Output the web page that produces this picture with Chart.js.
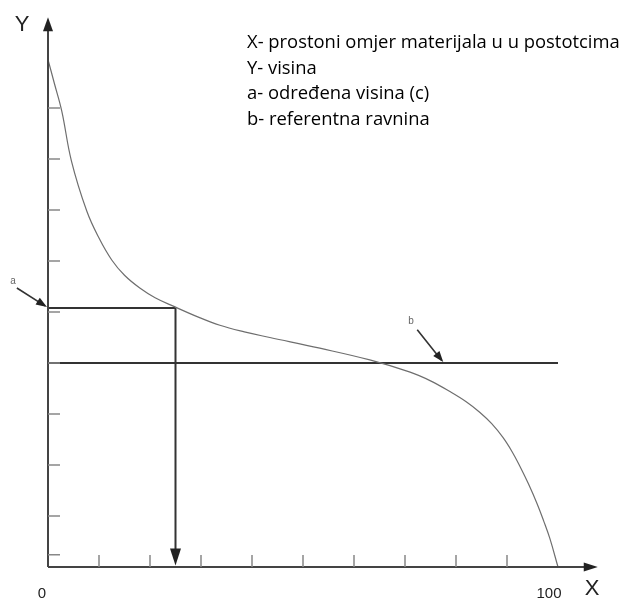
<!DOCTYPE html>
<html>
<head>
<meta charset="utf-8">
<script src="https://cdn.jsdelivr.net/npm/chart.js@4.4.1/dist/chart.umd.min.js"></script>
<style>
  html, body { margin: 0; padding: 0; background: #fff; }
  #wrap { width: 622px; height: 598px; }
</style>
</head>
<body>
<div id="wrap"><canvas id="c" width="622" height="598"></canvas></div>
<script>
// krivulja nosivog udjela materijala (ocitano sa slike)
const curveX = [0, 1.2, 2.7, 4.6, 7.6, 10, 12.5, 15, 18, 21, 24.9, 29, 33.7, 38.5, 43.5, 53.3, 63.1, 71, 75, 78.8, 82, 84.7, 87, 89.2, 91, 92.5, 94.2, 95.9, 97.2, 98.4, 100];
const curveY = [99.5, 95, 89.4, 79.6, 69.8, 64.5, 60.2, 57.2, 54.7, 52.8, 51, 49.2, 47.4, 46.1, 45, 42.9, 40.6, 38.2, 36.5, 34.4, 32.4, 30.3, 28.1, 25.4, 22.6, 19.8, 16.3, 12.4, 9, 5.6, 0];

const levelA = 50.8;   // odredjena visina (c)
const levelB = 40;     // referentna ravnina
const cutX = 25;       // ocitani udio materijala

const xTicks = [10, 20, 30, 40, 50, 60, 70, 80, 90];
const yTicks = [2.4, 10, 20, 30, 40, 50, 60, 70, 80, 90];
const axisEnd = 107.8;

const legendLines = [
    'X- prostoni omjer materijala u u postotcima',
    'Y- visina',
    'a- određena visina (c)',
    'b- referentna ravnina'
];

const pts = (xs, ys) => xs.map((x, i) => ({ x: x, y: ys[i] }));

function arrowHead(ctx, x1, y1, x2, y2, len, half) {
    const ang = Math.atan2(y2 - y1, x2 - x1);
    ctx.beginPath();
    ctx.moveTo(x2, y2);
    ctx.lineTo(x2 - len * Math.cos(ang) + half * Math.sin(ang), y2 - len * Math.sin(ang) - half * Math.cos(ang));
    ctx.lineTo(x2 - len * Math.cos(ang) - half * Math.sin(ang), y2 - len * Math.sin(ang) + half * Math.cos(ang));
    ctx.closePath();
    ctx.fill();
}

const decor = {
    id: 'decor',
    afterDatasetsDraw(chart) {
        const ctx = chart.ctx;
        const xs = chart.scales.x, ys = chart.scales.y;
        const px = v => xs.getPixelForValue(v);
        const py = v => ys.getPixelForValue(v);
        ctx.save();

        // osi
        ctx.strokeStyle = '#444';
        ctx.fillStyle = '#222';
        ctx.lineWidth = 2;
        ctx.beginPath();
        ctx.moveTo(px(0), py(0));
        ctx.lineTo(px(0), py(axisEnd) + 10);
        ctx.moveTo(px(0), py(0));
        ctx.lineTo(px(axisEnd) - 10, py(0));
        ctx.stroke();
        arrowHead(ctx, px(0), py(0), px(0), py(axisEnd), 14, 5);
        arrowHead(ctx, px(0), py(0), px(axisEnd), py(0), 14, 4.5);

        // crtice
        ctx.strokeStyle = '#888';
        ctx.lineWidth = 1.5;
        ctx.beginPath();
        xTicks.forEach(t => { ctx.moveTo(px(t), py(0)); ctx.lineTo(px(t), py(0) - 12); });
        yTicks.forEach(t => { ctx.moveTo(px(0), py(t)); ctx.lineTo(px(0) + 12, py(t)); });
        ctx.stroke();

        // strelica prema osi X
        ctx.fillStyle = '#222';
        arrowHead(ctx, px(cutX), py(levelA), px(cutX), py(0.3), 17, 5.5);

        // strelice a i b
        ctx.strokeStyle = '#333';
        ctx.lineWidth = 1.6;
        ctx.beginPath();
        ctx.moveTo(px(-6.1), py(54.7)); ctx.lineTo(px(-0.6), py(51.2));
        ctx.moveTo(px(72.4), py(46.5)); ctx.lineTo(px(77.2), py(40.5));
        ctx.stroke();
        arrowHead(ctx, px(-6.1), py(54.7), px(-0.2), py(51.0), 11, 4);
        arrowHead(ctx, px(72.4), py(46.5), px(77.5), py(40.2), 11, 4);

        ctx.fillStyle = '#666';
        ctx.font = '10px "Liberation Sans", Arial, sans-serif';
        ctx.textAlign = 'center';
        ctx.textBaseline = 'middle';
        ctx.fillText('a', 13, 281);
        ctx.fillText('b', 411, 321);

        // oznake osi
        ctx.fillStyle = '#222';
        ctx.font = '22px "Liberation Sans", Arial, sans-serif';
        ctx.fillText('Y', 22, 25);
        ctx.fillText('X', 592, 589);
        ctx.font = '15px "Liberation Sans", Arial, sans-serif';
        ctx.fillText('0', 42, 594);
        ctx.fillText('100', 549, 594);

        // legenda
        ctx.fillStyle = '#000';
        ctx.textAlign = 'left';
        ctx.textBaseline = 'alphabetic';
        ctx.font = '16px "Open Sans", sans-serif';
        const w = ctx.measureText(legendLines[0]).width;
        const size = 16 * 373 / w;
        ctx.font = size.toFixed(2) + 'px "Open Sans", sans-serif';
        legendLines.forEach((s, i) => ctx.fillText(s, 247, 48 + i * 25.5));

        ctx.restore();
    }
};

new Chart(document.getElementById('c'), {
    type: 'scatter',
    data: {
        datasets: [
            {
                data: pts(curveX, curveY),
                showLine: true,
                borderColor: '#6e6e6e',
                borderWidth: 1.2,
                pointRadius: 0,
                tension: 0.4,
                clip: false
            },
            {
                data: pts([0, cutX], [levelA, levelA]),
                showLine: true,
                borderColor: '#333',
                borderWidth: 2,
                pointRadius: 0,
                clip: false
            },
            {
                data: pts([cutX, cutX], [levelA, 3]),
                showLine: true,
                borderColor: '#333',
                borderWidth: 2,
                pointRadius: 0,
                clip: false
            },
            {
                data: pts([0, 100], [levelB, levelB]),
                showLine: true,
                borderColor: '#333',
                borderWidth: 2,
                pointRadius: 0,
                clip: false
            }
        ]
    },
    options: {
        responsive: false,
        animation: false,
        events: [],
        layout: { padding: { left: 48, top: 57, right: 64, bottom: 31 } },
        plugins: { legend: { display: false }, tooltip: { enabled: false } },
        scales: {
            x: { type: 'linear', min: 0, max: 100, display: false },
            y: { type: 'linear', min: 0, max: 100, display: false }
        }
    },
    plugins: [decor]
});
</script>
</body>
</html>
